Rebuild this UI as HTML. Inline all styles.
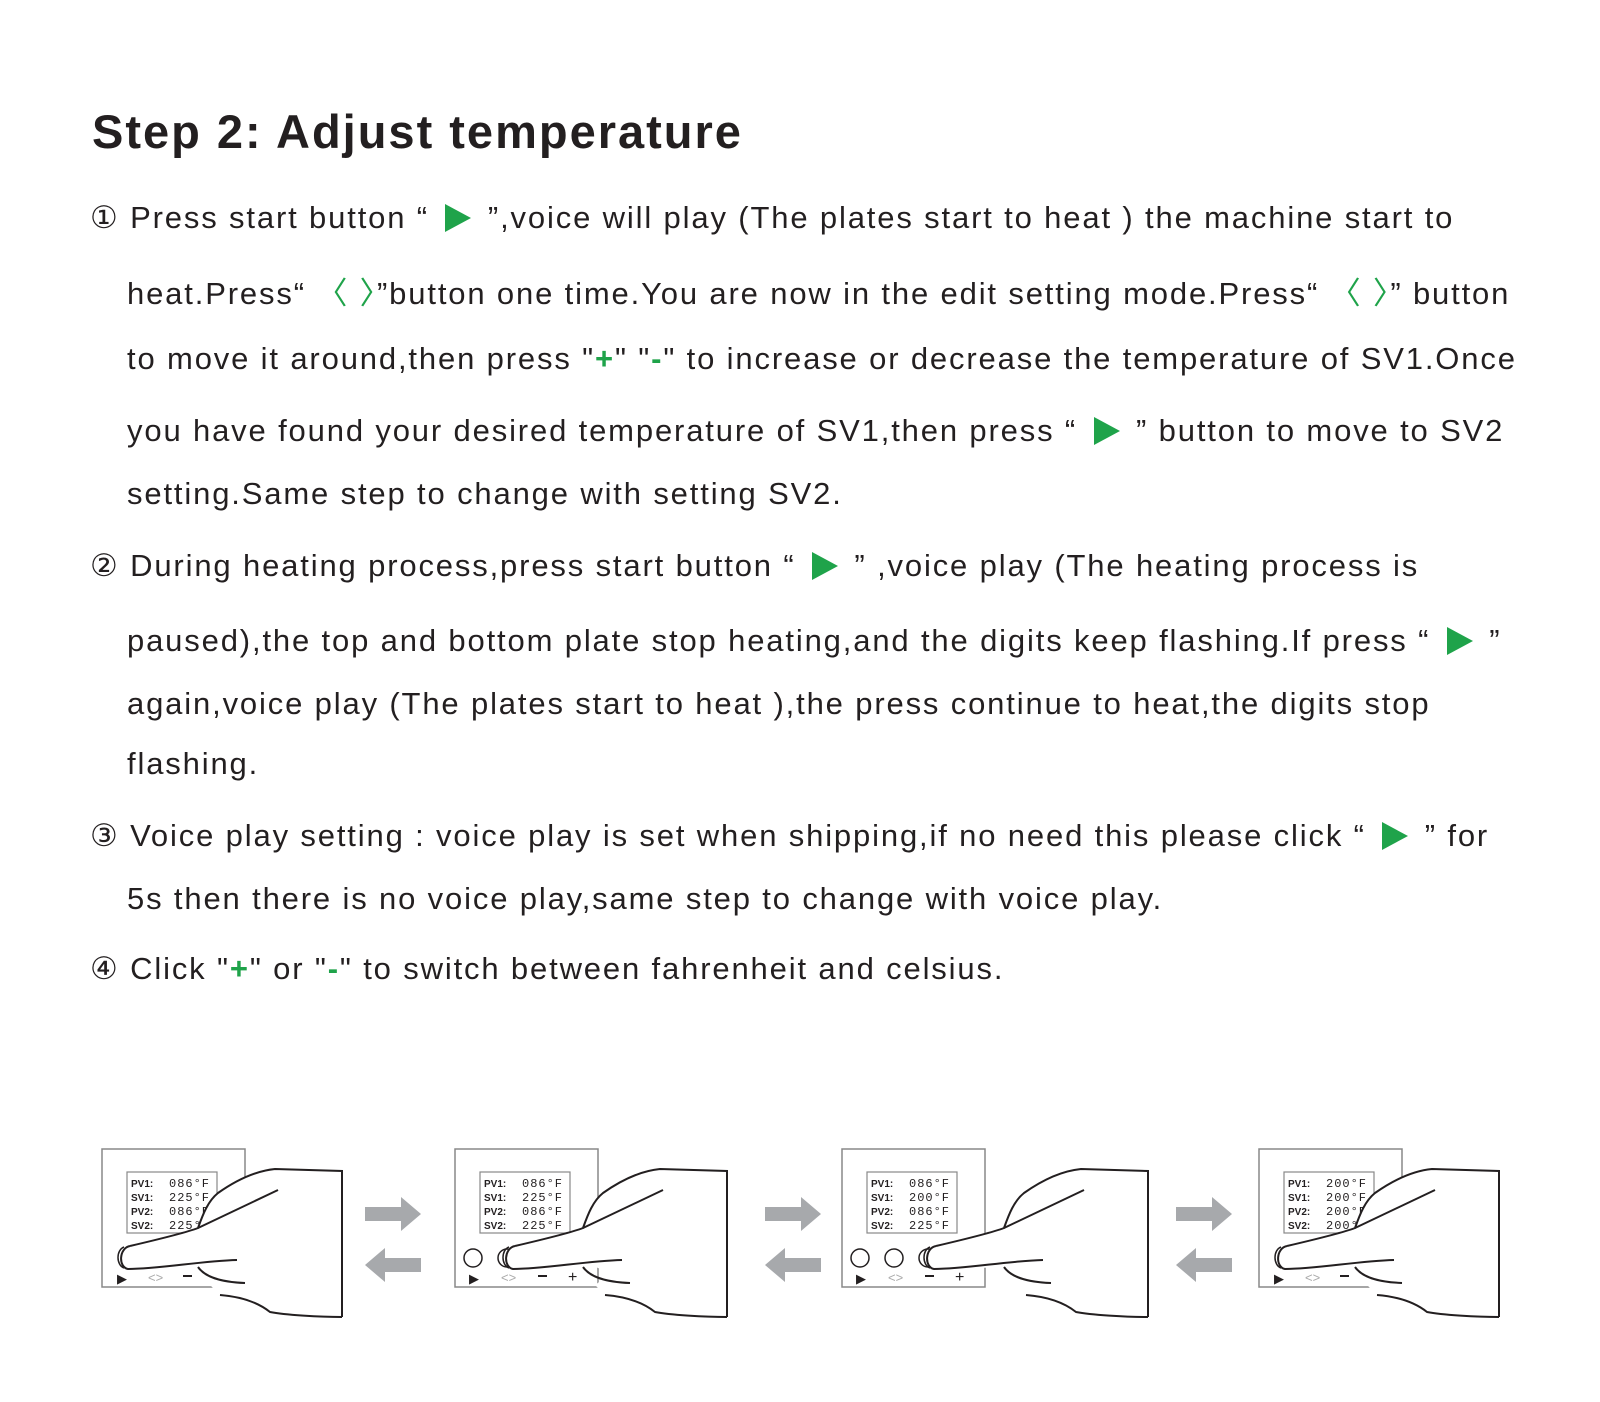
<!DOCTYPE html>
<html><head><meta charset="utf-8">
<style>
html,body{margin:0;padding:0;background:#fff;}
body{width:1600px;height:1402px;position:relative;overflow:hidden;font-family:"Liberation Sans","DejaVu Sans",sans-serif;color:#231f20;}
.t{position:absolute;left:92px;top:104px;font-size:47px;font-weight:bold;letter-spacing:2px;white-space:nowrap;}
.l{position:absolute;white-space:nowrap;font-size:31px;letter-spacing:1.85px;line-height:36px;}
.g{color:#1fa34a;font-weight:bold;}
.tri{display:inline-block;width:0;height:0;border-top:14px solid transparent;border-bottom:14px solid transparent;border-left:26px solid #1fa34a;vertical-align:-4px;margin:0 6px;}
.ang{color:#1fa34a;font-weight:normal;}
</style></head><body>
<div class="t">Step 2: Adjust temperature</div>

<div class="l" style="left:90px;top:200px">①&nbsp;Press start button “ <span class="tri"></span> ”,voice will play (The plates start to heat ) the machine start to</div>
<div class="l" style="left:127px;top:276px">heat.Press“ <span class="ang">〈 〉</span>”button one time.You are now in the edit setting mode.Press“ <span class="ang">〈 〉</span>” button</div>
<div class="l" style="left:127px;top:341px">to move it around,then press "<span class="g">+</span>" "<span class="g">-</span>" to increase or decrease the temperature of SV1.Once</div>
<div class="l" style="left:127px;top:413px">you have found your desired temperature of SV1,then press “ <span class="tri"></span> ” button to move to SV2</div>
<div class="l" style="left:127px;top:476px">setting.Same step to change with setting SV2.</div>

<div class="l" style="left:90px;top:548px">②&nbsp;During heating process,press start button “ <span class="tri"></span> ” ,voice play (The heating process is</div>
<div class="l" style="left:127px;top:623px">paused),the top and bottom plate stop heating,and the digits keep flashing.If press “ <span class="tri"></span> ”</div>
<div class="l" style="left:127px;top:686px">again,voice play (The plates start to heat ),the press continue to heat,the digits stop</div>
<div class="l" style="left:127px;top:746px">flashing.</div>

<div class="l" style="left:90px;top:818px">③&nbsp;Voice play setting : voice play is set when shipping,if no need this please click “ <span class="tri"></span> ” for</div>
<div class="l" style="left:127px;top:881px">5s then there is no voice play,same step to change with voice play.</div>
<div class="l" style="left:90px;top:951px">④&nbsp;Click "<span class="g">+</span>" or "<span class="g">-</span>" to switch between fahrenheit and celsius.</div>

<svg width="1600" height="1402" style="position:absolute;left:0;top:0" xmlns="http://www.w3.org/2000/svg">
<defs>
<g id="hand">
  <path d="M60,97 C90,90 115,84 128,79 C133,65 138,52 148,44 C165,32 185,22 205,20 L272,22 L272,168 C250,168 215,166 200,163 C185,150 165,145 150,146 L140,136 C150,130 150,120 140,118 L58,120 C49,118 50,99 60,97 Z" fill="#fff" stroke="none"/>
  <path d="M60,97 C90,90 115,84 128,79 C133,65 138,52 148,44 C165,32 185,22 205,20 L272,22 L272,168" fill="none" stroke="#231f20" stroke-width="2"/>
  <path d="M60,97 C49,99 48,118 58,120 C90,120 130,112 167,111" fill="none" stroke="#231f20" stroke-width="2"/>
  <path d="M54,98 C46,101 46,116 54,119" fill="none" stroke="#231f20" stroke-width="1.5"/>
  <path d="M208,41 L128,79" fill="none" stroke="#231f20" stroke-width="2"/>
  <path d="M128,118 C135,128 150,133 175,134" fill="none" stroke="#231f20" stroke-width="2"/>
  <path d="M150,146 C175,148 190,155 200,163 C215,166 250,168 272,168" fill="none" stroke="#231f20" stroke-width="2"/>
</g>
<g id="arrows">
  <polygon points="0,10 36,10 36,0 56,17 36,34 36,24 0,24" fill="#a7a9ac"/>
  <polygon points="56,61 20,61 20,51 0,68 20,85 20,75 56,75" fill="#a7a9ac"/>
</g>
</defs>
<style>
.lb{font-family:"Liberation Sans",sans-serif;font-weight:bold;font-size:10px;fill:#231f20}
.dg{font-family:"Liberation Mono",monospace;font-size:12px;fill:#231f20;letter-spacing:1px}
.ic{font-family:"Liberation Sans",sans-serif;font-size:13px;fill:#231f20}
</style>

<g transform="translate(102,1149)">
  <rect x="0" y="0" width="143" height="138" fill="#fff" stroke="#888" stroke-width="1.5"/>
  <rect x="25" y="23" width="90" height="61" fill="#fff" stroke="#888" stroke-width="1.2"/>
  <text class="lb" x="29" y="38">PV1:</text><text class="dg" x="67" y="38">086°F</text>
  <text class="lb" x="29" y="52">SV1:</text><text class="dg" x="67" y="52">225°F</text>
  <text class="lb" x="29" y="66">PV2:</text><text class="dg" x="67" y="66">086°F</text>
  <text class="lb" x="29" y="80">SV2:</text><text class="dg" x="67" y="80">225°F</text>
  <text class="ic" x="15" y="134">▶</text><text class="ic" x="46" y="133" style="fill:#aaa">&lt;&gt;</text>
  <rect x="81" y="126" width="9" height="2" fill="#231f20"/>
  <use href="#hand" transform="translate(-32,0)"/>
</g>
<use href="#arrows" transform="translate(365,1197)"/>

<g transform="translate(455,1149)">
  <rect x="0" y="0" width="143" height="138" fill="#fff" stroke="#888" stroke-width="1.5"/>
  <rect x="25" y="23" width="90" height="61" fill="#fff" stroke="#888" stroke-width="1.2"/>
  <text class="lb" x="29" y="38">PV1:</text><text class="dg" x="67" y="38">086°F</text>
  <text class="lb" x="29" y="52">SV1:</text><text class="dg" x="67" y="52">225°F</text>
  <text class="lb" x="29" y="66">PV2:</text><text class="dg" x="67" y="66">086°F</text>
  <text class="lb" x="29" y="80">SV2:</text><text class="dg" x="67" y="80">225°F</text>
  <circle cx="18" cy="109" r="9" fill="#fff" stroke="#231f20" stroke-width="1.5"/>
  <circle cx="52" cy="109" r="9" fill="#fff" stroke="#231f20" stroke-width="1.5"/>
  <text class="ic" x="14" y="134">▶</text><text class="ic" x="46" y="133" style="fill:#aaa">&lt;&gt;</text>
  <rect x="83" y="126" width="9" height="2" fill="#231f20"/>
  <text class="ic" x="113" y="133" style="font-size:16px">+</text>
  <use href="#hand"/>
</g>
<use href="#arrows" transform="translate(765,1197)"/>

<g transform="translate(842,1149)">
  <rect x="0" y="0" width="143" height="138" fill="#fff" stroke="#888" stroke-width="1.5"/>
  <rect x="25" y="23" width="90" height="61" fill="#fff" stroke="#888" stroke-width="1.2"/>
  <text class="lb" x="29" y="38">PV1:</text><text class="dg" x="67" y="38">086°F</text>
  <text class="lb" x="29" y="52">SV1:</text><text class="dg" x="67" y="52">200°F</text>
  <text class="lb" x="29" y="66">PV2:</text><text class="dg" x="67" y="66">086°F</text>
  <text class="lb" x="29" y="80">SV2:</text><text class="dg" x="67" y="80">225°F</text>
  <circle cx="18" cy="109" r="9" fill="#fff" stroke="#231f20" stroke-width="1.5"/>
  <circle cx="52" cy="109" r="9" fill="#fff" stroke="#231f20" stroke-width="1.5"/>
  <circle cx="86" cy="109" r="9" fill="#fff" stroke="#231f20" stroke-width="1.5"/>
  <text class="ic" x="14" y="134">▶</text><text class="ic" x="46" y="133" style="fill:#aaa">&lt;&gt;</text>
  <rect x="83" y="126" width="9" height="2" fill="#231f20"/>
  <text class="ic" x="113" y="133" style="font-size:16px">+</text>
  <use href="#hand" transform="translate(34,0)"/>
</g>
<use href="#arrows" transform="translate(1176,1197)"/>

<g transform="translate(1259,1149)">
  <rect x="0" y="0" width="143" height="138" fill="#fff" stroke="#888" stroke-width="1.5"/>
  <rect x="25" y="23" width="90" height="61" fill="#fff" stroke="#888" stroke-width="1.2"/>
  <text class="lb" x="29" y="38">PV1:</text><text class="dg" x="67" y="38">200°F</text>
  <text class="lb" x="29" y="52">SV1:</text><text class="dg" x="67" y="52">200°F</text>
  <text class="lb" x="29" y="66">PV2:</text><text class="dg" x="67" y="66">200°F</text>
  <text class="lb" x="29" y="80">SV2:</text><text class="dg" x="67" y="80">200°F</text>
  <text class="ic" x="15" y="134">▶</text><text class="ic" x="46" y="133" style="fill:#aaa">&lt;&gt;</text>
  <rect x="81" y="126" width="9" height="2" fill="#231f20"/>
  <use href="#hand" transform="translate(-32,0)"/>
</g>
</svg>
</body></html>
